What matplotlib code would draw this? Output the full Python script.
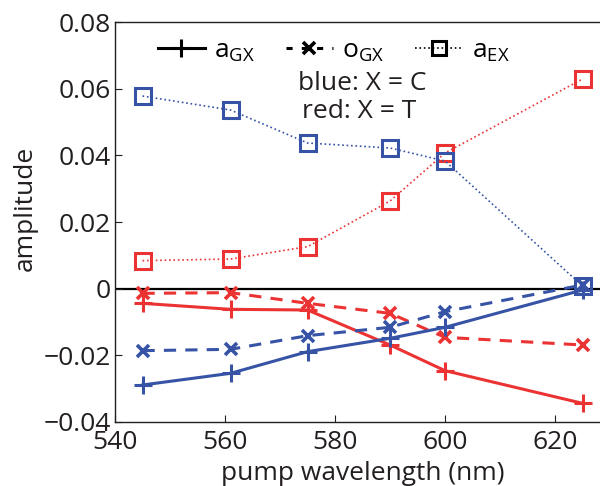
import matplotlib
matplotlib.use("Agg")
import matplotlib.pyplot as plt
from matplotlib.lines import Line2D

plt.rcParams['font.family'] = ['Open Sans', 'DejaVu Sans']
plt.rcParams['mathtext.fontset'] = 'custom'
plt.rcParams['mathtext.rm'] = 'Open Sans'
plt.rcParams['mathtext.it'] = 'Open Sans'

wavelength = [545, 561, 575, 590, 600, 625]

# X = C (blue)
a_gc = [-0.0289, -0.0254, -0.0189, -0.0149, -0.0116, -0.0004]
o_gc = [-0.0186, -0.0182, -0.0141, -0.0116, -0.0069, 0.0011]
a_ec = [0.0578, 0.0536, 0.0437, 0.0422, 0.0383, 0.0008]

# X = T (red)
a_gt = [-0.0044, -0.0062, -0.0064, -0.0169, -0.0246, -0.0344]
o_gt = [-0.0014, -0.0012, -0.0044, -0.0074, -0.0146, -0.0169]
a_et = [0.0084, 0.0089, 0.0126, 0.0263, 0.0407, 0.0629]

xticks = [540, 560, 580, 600, 620]
yticks = [-0.04, -0.02, 0, 0.02, 0.04, 0.06, 0.08]
ytick_labels = ['\u22120.04', '\u22120.02', '0', '0.02', '0.04', '0.06', '0.08']

BLUE = '#3653a6'
RED = '#ec3333'
INK = '#231f20'
FS = 19

fig = plt.figure(figsize=(6.0, 4.86), dpi=100)
ax = fig.add_axes([0.1917, 0.1317, 0.825, 0.823])

ax.axhline(0, color='black', lw=1.6, zorder=1)

for color, ag, og, ae in [(RED, a_gt, o_gt, a_et), (BLUE, a_gc, o_gc, a_ec)]:
    ax.plot(wavelength, ag, '-', color=color, lw=2.2, marker='+', ms=13, mew=2.2, zorder=3)
    ax.plot(wavelength, og, '--', color=color, lw=2.2, marker='x', ms=9, mew=2.6,
            dashes=(4, 3), zorder=3)
    ax.plot(wavelength, ae, ':', color=color, lw=1.2, marker='s', ms=11, mew=2.2,
            mfc='none', zorder=3)

ax.set_xlim(540, 630)
ax.set_ylim(-0.04, 0.08)
ax.set_xticks(xticks)
ax.set_yticks(yticks)
ax.set_yticklabels(ytick_labels)
ax.tick_params(direction='in', length=5, width=0.8, labelsize=FS, colors=INK)
ax.tick_params(axis='x', pad=6)
ax.tick_params(axis='y', pad=3)
for side in ['top', 'left', 'bottom', 'right']:
    ax.spines[side].set_linewidth(1.0)
    ax.spines[side].set_color(INK)

ax.set_xlabel('pump wavelength (nm)', fontsize=FS, color=INK, va='top')
ax.xaxis.set_label_coords(0.5, -0.098)
ax.set_ylabel('amplitude', fontsize=FS, color=INK, va='center')
ax.yaxis.set_label_coords(-0.182, 0.535)

handles = [
    Line2D([], [], color='black', ls='-', lw=2.2, marker='+', ms=13, mew=2.2),
    Line2D([], [], color='black', ls='--', lw=2.2, marker='x', ms=9, mew=2.6, dashes=(2, 3)),
    Line2D([], [], color='black', ls=':', lw=1.2, marker='s', ms=10, mew=2.2, mfc='none'),
]
labels = ['a$_{\\mathrm{GX}}$', 'o$_{\\mathrm{GX}}$', 'a$_{\\mathrm{EX}}$']
fig.legend(handles, labels, loc='center', bbox_to_anchor=(0.556, 0.895), ncol=3,
           frameon=False, fontsize=FS, handlelength=1.8, handletextpad=0.35,
           columnspacing=1.15)

fig.text(0.603, 0.829, 'blue: X = C', fontsize=FS, ha='center', va='center', color=INK)
fig.text(0.598, 0.770, 'red: X = T', fontsize=FS, ha='center', va='center', color=INK)

fig.savefig('out.png', dpi=100)
